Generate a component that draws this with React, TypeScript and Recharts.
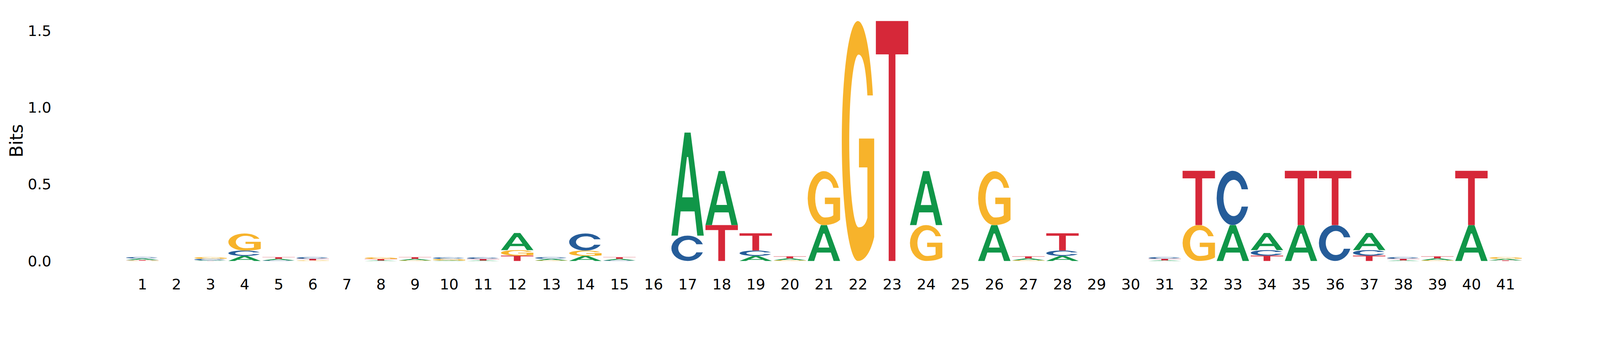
import React from "react";
import { BarChart, Bar, XAxis, YAxis } from "recharts";

// information content (bits) of each base at positions 1..41
const positions = Array.from({ length: 41 }, (_, i) => String(i + 1));
const bitsA = [0.010, 0, 0.003, 0.033, 0.010, 0, 0, 0.003, 0.010, 0.003, 0.003, 0.111, 0.010, 0.033, 0.010, 0, 0.671, 0.352, 0.033, 0.012, 0.234, 0, 0, 0.351, 0, 0.234, 0.012, 0.033, 0, 0, 0.004, 0, 0.234, 0.111, 0.234, 0, 0.111, 0.004, 0.012, 0.234, 0.010];
const bitsC = [0.010, 0, 0.010, 0.035, 0.004, 0.011, 0, 0, 0, 0.011, 0.011, 0, 0.011, 0.111, 0.004, 0, 0.165, 0, 0.035, 0, 0, 0, 0, 0, 0, 0, 0, 0.035, 0, 0, 0.011, 0, 0.353, 0.036, 0, 0.234, 0.036, 0.011, 0, 0, 0];
const bitsG = [0.002, 0, 0.011, 0.111, 0, 0.004, 0, 0.011, 0.004, 0.010, 0, 0.036, 0.004, 0.035, 0, 0, 0, 0, 0, 0.005, 0.351, 1.563, 0, 0.234, 0, 0.351, 0.005, 0, 0, 0, 0, 0.234, 0, 0, 0, 0, 0, 0, 0.005, 0, 0.011];
const bitsT = [0.004, 0, 0.001, 0, 0.011, 0.010, 0, 0.010, 0.011, 0, 0.010, 0.035, 0, 0, 0.011, 0, 0, 0.234, 0.112, 0.013, 0, 0, 1.563, 0, 0, 0, 0.013, 0.112, 0, 0, 0.010, 0.353, 0, 0.035, 0.353, 0.353, 0.035, 0.010, 0.013, 0.353, 0.004];
const yTicks = [0, 0.5, 1, 1.5];

const bases = ["A", "C", "G", "T"];
const baseBits = [bitsA, bitsC, bitsG, bitsT];
const colors: Record<string, string> = { A: "#109648", C: "#255C99", G: "#F7B32B", T: "#D62839" };

// glyph outlines in a unit box, stretched to fill each stacked segment
const glyphs: Record<string, string> = {
  A: "M0 1 L0.406 0 L0.594 0 L1 1 L0.8 1 L0.715 0.765 L0.285 0.765 L0.2 1 Z M0.334 0.628 L0.666 0.628 L0.52 0.237 L0.48 0.237 Z",
  C: "M0.97 0.34 A0.5 0.5 0 0 0 0.5 0 A0.5 0.5 0 0 0 0.5 1 A0.5 0.5 0 0 0 0.97 0.66 L0.77 0.66 C0.73 0.78 0.64 0.835 0.52 0.835 A0.31 0.335 0 0 1 0.52 0.165 C0.64 0.165 0.73 0.22 0.77 0.34 Z",
  G: "M0.96 0.31 A0.5 0.5 0 0 0 0.5 0 A0.5 0.5 0 0 0 0.5 1 C0.72 1 0.9 0.96 1 0.9 L1 0.49 L0.53 0.49 L0.53 0.61 L0.79 0.61 L0.79 0.82 C0.72 0.855 0.62 0.86 0.52 0.86 A0.29 0.36 0 0 1 0.52 0.14 C0.66 0.14 0.75 0.2 0.79 0.31 Z",
  T: "M0 0 H1 V0.139 H0.604 V1 H0.396 V0.139 H0 Z",
};

// per position, smallest letter at the bottom of the stack
const rows = positions.map((pos, i) => {
  const order = bases
    .map((b, k) => ({ b, v: baseBits[k][i] }))
    .sort((p, q) => p.v - q.v);
  const row: Record<string, string | number> = { pos };
  order.forEach((o, r) => {
    row[`v${r}`] = o.v;
    row[`l${r}`] = o.b;
  });
  return row;
});

const font = "DejaVu Sans";
// the page is photographed at a slightly larger pixel ratio, so the chart is laid out
// in picture pixels and shrunk back to css pixels
const pageScale = 1 / 1.097;

function Glyph(props: any) {
  const { x, y, width, height, payload, rank } = props;
  if (!height || height <= 0) return null;
  const letter = payload[`l${rank}`];
  return (
    <path
      d={glyphs[letter]}
      fill={colors[letter]}
      fillRule="evenodd"
      transform={`translate(${x} ${y}) scale(${width} ${height})`}
    />
  );
}

function BitsLabel(props: any) {
  const vb = props.viewBox;
  const cx = vb.x + 64;
  const cy = vb.y + vb.height / 2;
  return (
    <text
      x={cx}
      y={cy}
      transform={`rotate(-90 ${cx} ${cy})`}
      textAnchor="middle"
      fontFamily={font}
      fontSize={50}
      fill="#000"
    >
      Bits
    </text>
  );
}

export default function App() {
  return (
    <div
      style={{
        position: "absolute",
        left: 0,
        top: 0,
        width: 4500,
        height: 900,
        background: "#fff",
        transform: `scale(${pageScale})`,
        transformOrigin: "0 0",
      }}
    >
      <BarChart
        width={4500}
        height={900}
        data={rows}
        margin={{ top: 58, right: 223.85, bottom: 68, left: 0 }}
        barSize={91}
      >
        <XAxis
          dataKey="pos"
          interval={0}
          axisLine={false}
          tickLine={false}
          tickSize={0}
          tickMargin={50}
          height={100}
          tick={{ fontFamily: font, fontSize: 41.7, fill: "#000" }}
        />
        <YAxis
          type="number"
          domain={[0, 1.565]}
          ticks={yTicks}
          tickFormatter={(v: number) => v.toFixed(1)}
          width={352.15}
          axisLine={false}
          tickLine={false}
          tickSize={0}
          tickMargin={208}
          tick={{ fontFamily: font, fontSize: 41.7, fill: "#000" }}
          label={{ content: BitsLabel }}
        />
        {[0, 1, 2, 3].map((r) => (
          <Bar
            key={r}
            dataKey={`v${r}`}
            stackId="logo"
            isAnimationActive={false}
            shape={(p: any) => <Glyph {...p} rank={r} />}
          />
        ))}
      </BarChart>
    </div>
  );
}
